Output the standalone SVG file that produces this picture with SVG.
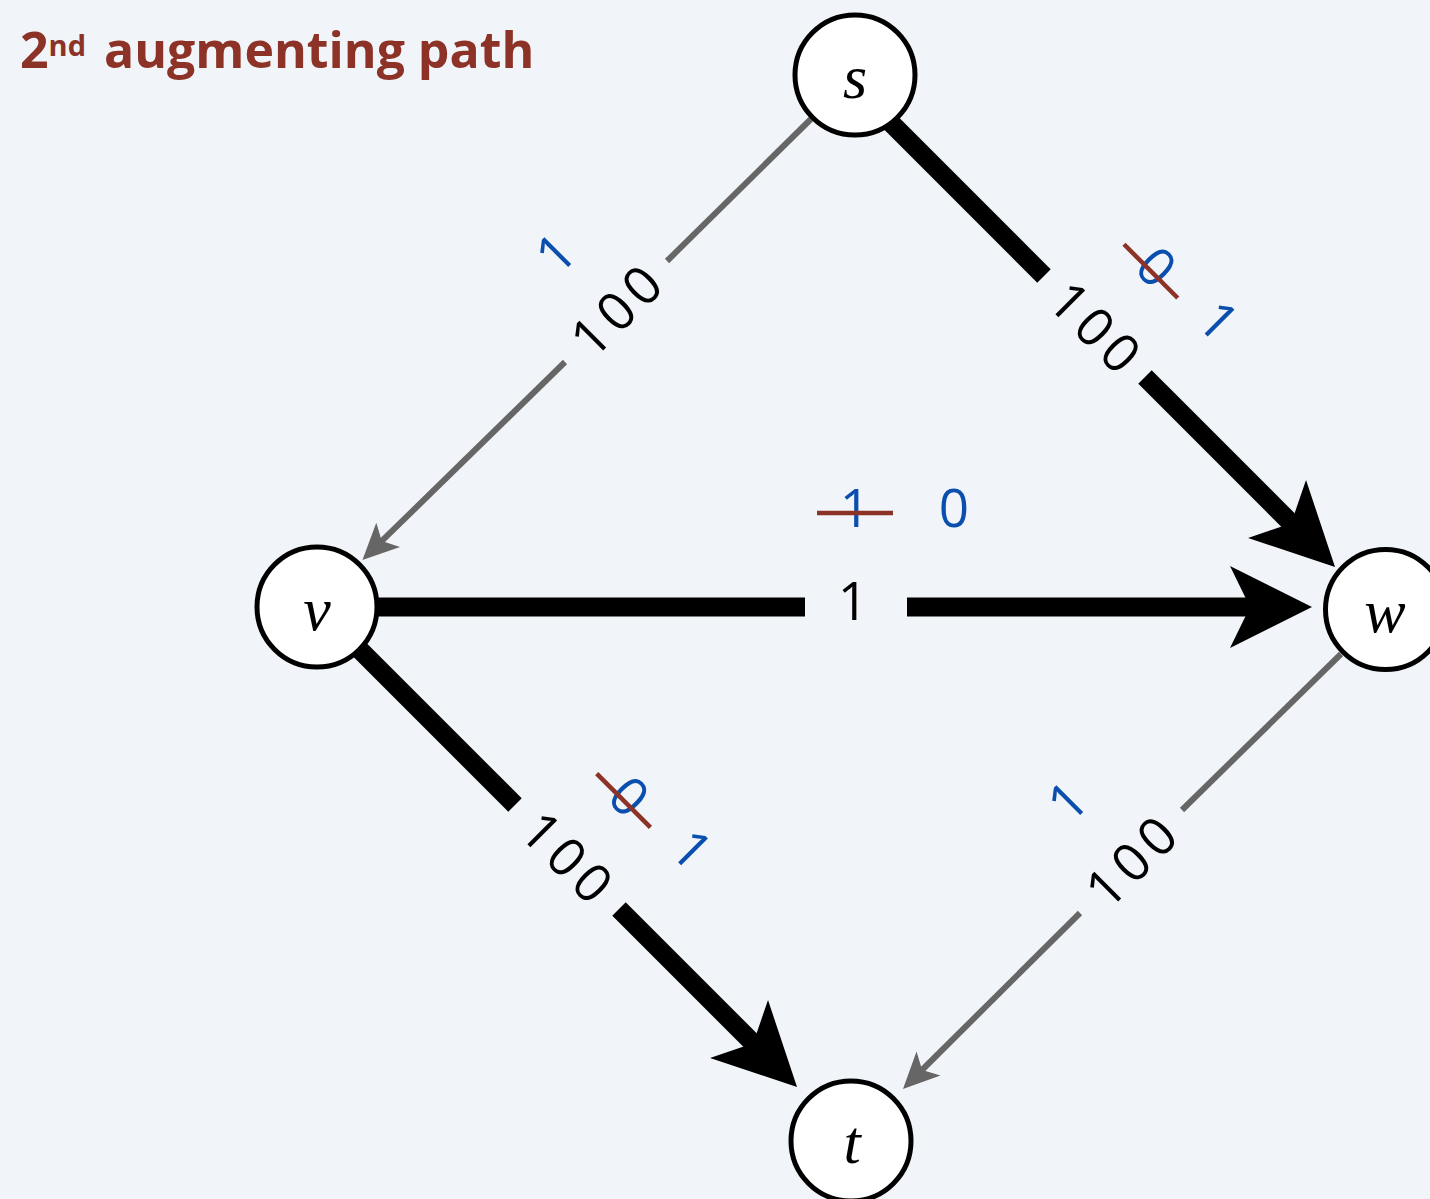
<svg xmlns="http://www.w3.org/2000/svg" width="1430" height="1199" viewBox="0 0 1430 1199">
<defs>
<style>
.node circle{fill:#fff;stroke:#000;stroke-width:5}
.node text{font-family:"Liberation Serif",serif;font-style:italic;font-size:62px;text-anchor:middle;fill:#000}
.thick{stroke:#000;stroke-width:19;fill:none}
.thin{stroke:#666;stroke-width:6;fill:none}
.cap{font-family:"Open Sans","Liberation Sans",sans-serif;font-size:53px;text-anchor:middle;fill:#000;letter-spacing:6px}
.flow{font-family:"Open Sans","Liberation Sans",sans-serif;font-size:53px;text-anchor:middle;fill:#0b4fae}
.strike{stroke:#8c3226;stroke-width:4.5}
</style>
<marker id="ab" markerUnits="userSpaceOnUse" markerWidth="82" markerHeight="82" refX="24" refY="41" orient="auto" overflow="visible"><path d="M0,0 L82,41 L0,82 L20,41 Z" fill="#000"/></marker>
<marker id="ag" markerUnits="userSpaceOnUse" markerWidth="36" markerHeight="34" refX="12" refY="17" orient="auto" overflow="visible"><path d="M0,0 L36,17 L0,34 L9,17 Z" fill="#666"/></marker>
</defs>
<rect width="1430" height="1199" fill="#f1f5f9"/>
<text font-family="'Open Sans','Liberation Sans',sans-serif" font-weight="bold" fill="#8c3226"><tspan x="20" y="68" font-size="50">2</tspan><tspan y="56" font-size="29">nd</tspan><tspan x="104" y="68" font-size="50">augmenting path</tspan></text>
<g id="edges">
<g id="e-s-v">
<line class="thin" x1="811" y1="119" x2="667" y2="261"/>
<line class="thin" x1="565" y1="362" x2="379.6" y2="543.2" marker-end="url(#ag)"/>
<g transform="translate(616,311) rotate(-45)"><text class="cap" x="3" y="19">100</text><text class="flow" x="-2" y="-65">1</text></g>
</g>
<g id="e-s-w">
<line class="thick" x1="855" y1="87" x2="1044" y2="276"/>
<line class="thick" x1="1145" y1="377" x2="1294" y2="526" marker-end="url(#ab)"/>
<g transform="translate(1095,327) rotate(45)"><text class="cap" x="3" y="19">100</text><text class="flow" x="1" y="-67">0</text><line class="strike" x1="-38" y1="-79" x2="38" y2="-79"/><text class="flow" x="83" y="-73">1</text></g>
</g>
<g id="e-v-w">
<line class="thick" x1="317" y1="607" x2="805" y2="607"/>
<line class="thick" x1="907" y1="607" x2="1254" y2="607" marker-end="url(#ab)"/>
<text class="cap" x="856" y="620">1</text>
<text class="flow" x="855" y="527">1</text><line class="strike" x1="817" y1="513" x2="893" y2="513"/>
<text class="flow" x="954" y="527">0</text>
</g>
<g id="e-v-t">
<line class="thick" x1="317" y1="607" x2="515" y2="805"/>
<line class="thick" x1="619" y1="909" x2="756" y2="1046" marker-end="url(#ab)"/>
<g transform="translate(567,857) rotate(45)"><text class="cap" x="3" y="19">100</text><text class="flow" x="1" y="-68">0</text><line class="strike" x1="-38" y1="-80" x2="38" y2="-80"/><text class="flow" x="83" y="-75">1</text></g>
</g>
<g id="e-w-t">
<line class="thin" x1="1341" y1="654" x2="1182" y2="810"/>
<line class="thin" x1="1080" y1="913" x2="920" y2="1072" marker-end="url(#ag)"/>
<g transform="translate(1131,862) rotate(-45)"><text class="cap" x="3" y="19">100</text><text class="flow" x="-2" y="-69">1</text></g>
</g>
</g>
<g id="node-s" class="node"><circle cx="855" cy="75" r="60"/><text x="855" y="98">s</text></g>
<g id="node-v" class="node"><circle cx="317" cy="607" r="60"/><text x="317" y="630">v</text></g>
<g id="node-w" class="node"><circle cx="1385.5" cy="609.5" r="60"/><text x="1385" y="632">w</text></g>
<g id="node-t" class="node"><circle cx="851" cy="1141" r="60"/><text x="852" y="1163">t</text></g>
</svg>
